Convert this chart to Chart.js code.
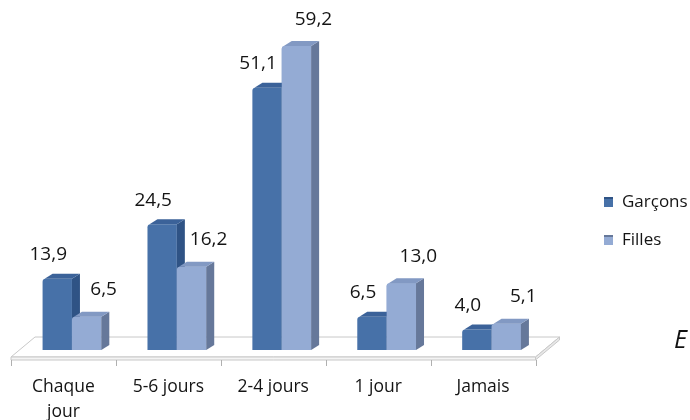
<!DOCTYPE html>
<html>
<head>
<meta charset="utf-8">
<script src="https://cdn.jsdelivr.net/npm/chart.js@4.4.1/dist/chart.umd.min.js"></script>
<style>
  html, body { margin: 0; padding: 0; background: #fff; }
  #wrap { width: 690px; height: 420px; position: relative; }
</style>
</head>
<body>
<div id="wrap"><canvas id="chart"></canvas></div>
<script>
// données
const categories = [['Chaque', 'jour'], '5-6 jours', '2-4 jours', '1 jour', 'Jamais'];
const garcons = [13.9, 24.5, 51.1, 6.5, 4.0];
const filles = [6.5, 16.2, 59.2, 13.0, 5.1];
const seriesNames = ['Garçons', 'Filles'];

const FONT = '"Open Sans", "DejaVu Sans", sans-serif';
const TEXT = '#141414';
const DX = 8, DY = -5;          // profondeur des barres
const FLOOR_SHIFT = -8.5;       // décalage du plancher par rapport aux barres

function fmt(v) {
  return v.toFixed(1).replace('.', ',');
}

function face(ctx, pts, fill) {
  ctx.beginPath();
  ctx.moveTo(pts[0][0], pts[0][1]);
  for (let i = 1; i < pts.length; i++) ctx.lineTo(pts[i][0], pts[i][1]);
  ctx.closePath();
  ctx.fillStyle = fill;
  ctx.fill();
}

function drawCube(ctx, bar, ds) {
  const p = bar.getProps(['x', 'y', 'base', 'width'], true);
  const l = p.x - p.width / 2, r = p.x + p.width / 2;
  face(ctx, [[r, p.y], [r + DX, p.y + DY], [r + DX, p.base + DY], [r, p.base]], ds.sideColor);
  face(ctx, [[l + 2, p.y], [l + DX + 2, p.y + DY], [r + DX, p.y + DY], [r, p.y]], ds.topColor);
}

// plancher 3D + graduations
const floor = {
  id: 'floor',
  beforeDatasetsDraw(chart) {
    const ctx = chart.ctx;
    const xs = chart.scales.x;
    const base = chart.scales.y.getPixelForValue(0);
    const fl = xs.left + FLOOR_SHIFT, fr = xs.right + FLOOR_SHIFT;
    const fy = base + 7, bx = 24, by = -20, th = 3;
    ctx.save();
    ctx.strokeStyle = '#c8c8c8';
    ctx.lineWidth = 1;
    face(ctx, [[fl, fy], [fl + bx, fy + by], [fr + bx, fy + by], [fr, fy]], '#ffffff');
    ctx.stroke();
    face(ctx, [[fl, fy], [fr, fy], [fr, fy + th], [fl, fy + th]], '#f4f4f4');
    ctx.stroke();
    face(ctx, [[fr, fy], [fr + bx, fy + by], [fr + bx, fy + by + th], [fr, fy + th]], '#e8e8e8');
    ctx.stroke();
    const n = chart.data.labels.length;
    ctx.strokeStyle = '#b0b0b0';
    for (let i = 0; i <= n; i++) {
      const tx = Math.round(fl + i * (fr - fl) / n) + 0.5;
      ctx.beginPath();
      ctx.moveTo(tx, fy + th);
      ctx.lineTo(tx, fy + th + 6);
      ctx.stroke();
    }
    ctx.restore();
  }
};

// faces latérales et supérieures, étiquettes, légende
const cubes = {
  id: 'cubes',
  afterDatasetsDraw(chart) {
    const ctx = chart.ctx;
    const m0 = chart.getDatasetMeta(0), m1 = chart.getDatasetMeta(1);
    const d0 = chart.data.datasets[0], d1 = chart.data.datasets[1];
    ctx.save();
    for (let i = 0; i < m0.data.length; i++) {
      drawCube(ctx, m0.data[i], d0);
      m1.data[i].draw(ctx);
      drawCube(ctx, m1.data[i], d1);
    }
    ctx.font = '500 19px ' + FONT;
    ctx.fillStyle = TEXT;
    ctx.textAlign = 'center';
    ctx.textBaseline = 'middle';
    [m0, m1].forEach((m, k) => {
      const vals = chart.data.datasets[k].data;
      m.data.forEach((bar, i) => {
        const dx = k === 0 ? -9 : 17;
        const up = k === 0 ? 24 : 27;
        ctx.fillText(fmt(vals[i]), bar.x + dx, bar.y - up);
      });
    });
    ctx.restore();
  },
  afterDraw(chart) {
    const ctx = chart.ctx;
    ctx.save();
    chart.data.datasets.forEach((ds, i) => {
      const y = 202 + i * 38;
      ctx.fillStyle = ds.backgroundColor;
      ctx.fillRect(604, y - 5, 9, 10);
      ctx.fillStyle = ds.sideColor;
      ctx.fillRect(604, y - 5, 9, 2);
      ctx.font = '500 17px ' + FONT;
      ctx.fillStyle = TEXT;
      ctx.textAlign = 'left';
      ctx.textBaseline = 'middle';
      ctx.fillText(ds.label, 622, y);
    });
    ctx.font = 'italic 25px ' + FONT;
    ctx.fillStyle = '#111';
    ctx.textBaseline = 'alphabetic';
    ctx.fillText('E', 674, 348);
    ctx.restore();
  }
};

new Chart(document.getElementById('chart'), {
  type: 'bar',
  data: {
    labels: categories,
    datasets: [
      {
        label: seriesNames[0],
        data: garcons,
        backgroundColor: '#4771a8',
        sideColor: '#2f5385',
        topColor: '#3b6299',
        borderRadius: { topLeft: 3 },
        borderSkipped: 'bottom'
      },
      {
        label: seriesNames[1],
        data: filles,
        backgroundColor: '#94abd4',
        sideColor: '#66789a',
        topColor: '#8299c3',
        borderRadius: { topLeft: 3 },
        borderSkipped: 'bottom'
      }
    ]
  },
  options: {
    responsive: true,
    maintainAspectRatio: false,
    animation: false,
    events: [],
    categoryPercentage: 0.56,
    barPercentage: 1,
    layout: { padding: { left: 19.5, right: 146, top: 42, bottom: 0 } },
    plugins: {
      legend: { display: false },
      tooltip: { enabled: false }
    },
    scales: {
      x: {
        grid: { display: false, drawTicks: false },
        border: { display: false },
        afterFit(scale) { scale.height = 70; },
        ticks: {
          color: TEXT,
          font: { family: FONT, size: 17.5, weight: '500', lineHeight: 1.43 },
          padding: 24.5,
          labelOffset: FLOOR_SHIFT,
          maxRotation: 0,
          autoSkip: false
        }
      },
      y: {
        display: false,
        min: 0,
        max: 60
      }
    }
  },
  plugins: [floor, cubes]
});
</script>
</body>
</html>
